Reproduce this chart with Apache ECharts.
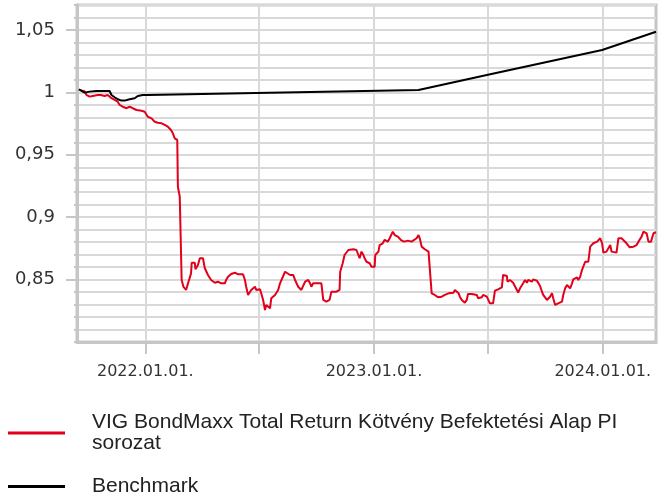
<!DOCTYPE html>
<html>
<head>
<meta charset="utf-8">
<script src="https://cdn.jsdelivr.net/npm/echarts@6/dist/echarts.min.js"></script>
<style>
html,body{margin:0;padding:0;background:#fff;}
#chart{width:664px;height:497px;}
</style>
</head>
<body>
<div id="chart"></div>
<script>
const fundName = 'VIG BondMaxx Total Return Kötvény Befektetési Alap PI sorozat';
const benchName = 'Benchmark';

const fundDates = ['2021-09-17','2021-09-26','2021-09-29','2021-10-04','2021-10-09','2021-10-12','2021-10-17','2021-10-22','2021-10-28','2021-10-31',
'2021-11-02','2021-11-05','2021-11-08','2021-11-13','2021-11-18','2021-11-21','2021-11-26','2021-12-02','2021-12-07','2021-12-12',
'2021-12-18','2021-12-26','2021-12-31','2022-01-03','2022-01-05','2022-01-11','2022-01-16','2022-01-21','2022-01-27','2022-02-01',
'2022-02-06','2022-02-11','2022-02-14','2022-02-17','2022-02-21','2022-02-22','2022-02-25','2022-02-26','2022-02-28','2022-03-03',
'2022-03-07','2022-03-10','2022-03-15','2022-03-16','2022-03-21','2022-03-22','2022-03-26','2022-03-29','2022-04-03','2022-04-06',
'2022-04-11','2022-04-16','2022-04-22','2022-04-27','2022-04-30','2022-05-02','2022-05-08','2022-05-10','2022-05-13','2022-05-18',
'2022-05-24','2022-05-29','2022-06-06','2022-06-09','2022-06-11','2022-06-14','2022-06-19','2022-06-25','2022-06-27','2022-07-03',
'2022-07-05','2022-07-08','2022-07-11','2022-07-13','2022-07-19','2022-07-21','2022-07-27','2022-08-01','2022-08-04','2022-08-06',
'2022-08-12','2022-08-14','2022-08-20','2022-08-25','2022-08-28','2022-09-02','2022-09-07','2022-09-13','2022-09-18','2022-09-21',
'2022-09-23','2022-09-26','2022-10-09','2022-10-12','2022-10-17','2022-10-20','2022-10-22','2022-10-25','2022-11-02','2022-11-07',
'2022-11-08','2022-11-12','2022-11-15','2022-11-21','2022-11-29','2022-12-04','2022-12-07','2022-12-09','2022-12-12','2022-12-15',
'2022-12-17','2022-12-20','2022-12-25','2022-12-28','2023-01-02','2023-01-03','2023-01-08','2023-01-10','2023-01-15','2023-01-18',
'2023-01-23','2023-01-26','2023-01-31','2023-02-03','2023-02-08','2023-02-13','2023-02-18','2023-02-24','2023-03-02','2023-03-10',
'2023-03-13','2023-03-15','2023-03-18','2023-03-23','2023-03-29','2023-03-31','2023-04-03','2023-04-08','2023-04-13','2023-04-19',
'2023-04-24','2023-04-30','2023-05-08','2023-05-10','2023-05-16','2023-05-18','2023-05-21','2023-05-26','2023-05-29','2023-05-31',
'2023-06-06','2023-06-14','2023-06-16','2023-06-19','2023-06-22','2023-06-24','2023-06-30','2023-07-02','2023-07-05','2023-07-10',
'2023-07-13','2023-07-18','2023-07-24','2023-07-26','2023-08-01','2023-08-02','2023-08-06','2023-08-11','2023-08-17','2023-08-19',
'2023-08-22','2023-08-27','2023-08-30','2023-09-02','2023-09-04','2023-09-10','2023-09-12','2023-09-18','2023-09-23','2023-09-26',
'2023-09-28','2023-10-04','2023-10-09','2023-10-12','2023-10-14','2023-10-17','2023-10-22','2023-10-28','2023-10-30','2023-11-02',
'2023-11-05','2023-11-10','2023-11-13','2023-11-15','2023-11-21','2023-11-23','2023-11-26','2023-11-29','2023-12-04','2023-12-09',
'2023-12-12','2023-12-17','2023-12-23','2023-12-28','2023-12-31','2024-01-02','2024-01-07','2024-01-10','2024-01-13','2024-01-15',
'2024-01-18','2024-01-23','2024-01-26','2024-01-31','2024-02-08','2024-02-13','2024-02-19','2024-02-24','2024-02-27','2024-03-01',
'2024-03-03','2024-03-06','2024-03-11','2024-03-14','2024-03-18','2024-03-22','2024-03-26'];

const fundValues = [1.002,1.001,0.998,0.9966,0.9971,0.9966,0.9979,0.9979,0.9971,0.9966,
0.9979,0.9971,0.9953,0.9939,0.9925,0.9899,0.9885,0.9873,0.9885,0.9873,
0.9859,0.9853,0.9845,0.9833,0.9805,0.9792,0.9765,0.9757,0.9752,0.9739,
0.9725,0.9699,0.9672,0.9632,0.9619,0.9244,0.9164,0.8938,0.8497,0.8441,
0.8417,0.8430,0.8550,0.8635,0.8635,0.8583,0.8617,0.8671,0.8671,0.8591,
0.8537,0.8497,0.8475,0.8483,0.8497,0.8470,0.8470,0.8497,0.8523,0.8545,
0.8555,0.8542,0.8542,0.8497,0.8443,0.8377,0.8417,0.8443,0.8417,0.8422,
0.8390,0.8337,0.8256,0.8296,0.8270,0.8350,0.8377,0.8417,0.8470,0.8483,
0.8563,0.8550,0.8537,0.8537,0.8497,0.8443,0.8417,0.8483,0.8497,0.8470,
0.8443,0.8470,0.8470,0.8337,0.8323,0.8310,0.8337,0.8403,0.8403,0.8417,
0.8563,0.8631,0.8697,0.8737,0.8743,0.8737,0.8697,0.8671,0.8724,0.8697,
0.8671,0.8643,0.8631,0.8603,0.8603,0.8697,0.8724,0.8777,0.8791,0.8819,
0.8804,0.8831,0.8884,0.8857,0.8844,0.8817,0.8804,0.8812,0.8804,0.8831,
0.8857,0.8831,0.8764,0.8743,0.8724,0.8737,0.8390,0.8377,0.8358,0.8363,
0.8377,0.8390,0.8395,0.8417,0.8390,0.8363,0.8337,0.8315,0.8337,0.8385,
0.8385,0.8377,0.8351,0.8337,0.8359,0.8377,0.8363,0.8351,0.8310,0.8310,
0.8411,0.8422,0.8438,0.8537,0.8529,0.8483,0.8497,0.8475,0.8417,0.8395,
0.8430,0.8470,0.8497,0.8475,0.8497,0.8483,0.8502,0.8491,0.8449,0.8403,
0.8377,0.8337,0.8363,0.8390,0.8351,0.8297,0.8310,0.8323,0.8377,0.8430,
0.8457,0.8430,0.8470,0.8502,0.8518,0.8497,0.8523,0.8578,0.8643,0.8643,
0.8764,0.8791,0.8804,0.8831,0.8791,0.8716,0.8724,0.8751,0.8777,0.8724,
0.8711,0.8716,0.8831,0.8831,0.8791,0.8759,0.8764,0.8777,0.8804,0.8791,
0.8844,0.8884,0.8871,0.8804,0.8804,0.8871,0.8879];

const benchDates = ['2021-09-17','2021-09-26','2021-10-04','2021-10-15','2021-11-05','2021-11-08','2021-11-13','2021-11-18','2021-11-24','2021-11-29',
'2021-12-07','2021-12-15','2021-12-20','2021-12-23','2021-12-28','2022-01-05','2023-03-13','2023-06-30','2023-12-31','2024-03-26'];
const benchValues = [1.0025,0.9998,1.0006,1.0011,1.0011,0.9979,0.9961,0.9945,0.9934,0.9934,
0.9945,0.9953,0.9971,0.9987,0.9979,0.9979,1.0019,1.0139,1.0340,1.0486];

const xMin = '2021-09-14';
const xMax = '2024-03-26';
const xTickDates = ['2022-01-01','2022-07-01','2023-01-01','2023-07-01','2024-01-01'];
const xLabelDates = ['2022-01-01','2023-01-01','2024-01-01'];
const yMin = 0.8, yMax = 1.07;
const yMinorStep = 0.01;
const yLabelValues = [0.85, 0.9, 0.95, 1, 1.05];

function ts(s){ const p = s.split('-').map(Number); return new Date(p[0], p[1]-1, p[2]).getTime(); }
function pad(n){ return (n < 10 ? '0' : '') + n; }
function zip(d, v){ return d.map((s, i) => [ts(s), v[i]]); }

const gridGray = '#d9d9d9';
const axisGray = '#c6c6c6';

const chart = echarts.init(document.getElementById('chart'), null, {renderer: 'canvas'});
chart.setOption({
  animation: false,
  backgroundColor: '#ffffff',
  grid: {left: 77, right: 8, top: 5, bottom: 155, show: true, borderColor: axisGray, borderWidth: 3, backgroundColor: '#fff', containLabel: false},
  xAxis: {
    type: 'value', min: ts(xMin), max: ts(xMax), scale: true,
    axisLine: {show: true, onZero: false, lineStyle: {color: axisGray, width: 3}},
    axisTick: {show: true, length: 12, lineStyle: {color: axisGray, width: 2}, customValues: xTickDates.map(ts)},
    axisLabel: {show: true, customValues: xLabelDates.map(ts), margin: 22, fontSize: 16, fontFamily: 'DejaVu Sans', color: '#333',
      formatter: function(v){ const d = new Date(v); return d.getFullYear() + '.' + pad(d.getMonth()+1) + '.' + pad(d.getDate()) + '.'; }},
    splitLine: {show: true, lineStyle: {color: gridGray, width: 2}}
  },
  yAxis: [{
    type: 'value', min: yMin, max: yMax, interval: yMinorStep,
    axisLine: {show: true, lineStyle: {color: axisGray, width: 3}},
    axisTick: {show: true, length: 3, lineStyle: {color: axisGray, width: 2}},
    axisLabel: {show: false},
    splitLine: {show: true, lineStyle: {color: gridGray, width: 2}}
  }, {
    type: 'value', min: yMin, max: yMax, position: 'left', offset: 0,
    axisLine: {show: false},
    axisTick: {show: true, length: 11, lineStyle: {color: axisGray, width: 2}, customValues: yLabelValues},
    axisLabel: {show: true, customValues: yLabelValues, margin: 22, fontSize: 18, fontFamily: 'DejaVu Sans', color: '#333',
      formatter: function(v){ return String(+v.toFixed(2)).replace('.', ','); }},
    splitLine: {show: false}
  }],
  legend: {
    orient: 'vertical', left: 8, top: 412, padding: 0, itemGap: 22, itemWidth: 57, itemHeight: 3, icon: 'rect',
    textStyle: {fontFamily: 'Liberation Sans, Arial, sans-serif', fontSize: 21, color: '#222', lineHeight: 21, padding: [0, 0, 0, 22]},
    formatter: function(name){ return name.replace(' sorozat', '\nsorozat'); },
    data: [fundName, benchName]
  },
  series: [{
    name: fundName, type: 'line', yAxisIndex: 0, showSymbol: false, symbol: 'none',
    lineStyle: {color: '#e2001a', width: 2}, itemStyle: {color: '#e2001a'},
    data: zip(fundDates, fundValues)
  }, {
    name: benchName, type: 'line', yAxisIndex: 0, showSymbol: false, symbol: 'none',
    lineStyle: {color: '#000000', width: 2}, itemStyle: {color: '#000000'},
    data: zip(benchDates, benchValues)
  }]
});
</script>
</body>
</html>
